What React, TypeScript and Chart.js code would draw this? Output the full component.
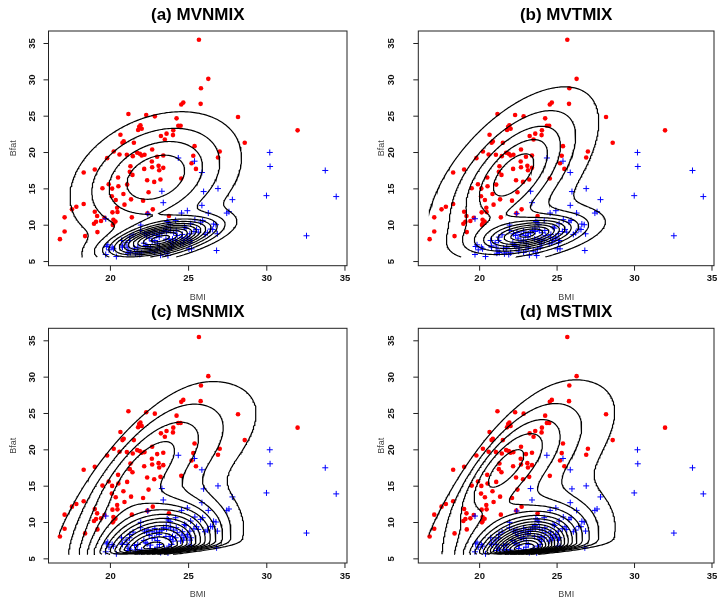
import React, { useEffect, useRef } from "react";
import { Chart, registerables } from "chart.js";
Chart.register(...registerables);

// ---------------- data (AIS athletes) ----------------
const femaleBMI = [25.66, 26.26, 25.79, 25.77, 24.66, 24.53, 28.16, 31.97, 28.59, 25.38, 26.99, 25.30, 26.88, 25.19, 25.47, 24.53,
  24.23, 24.34, 24.49, 24.02, 24.00, 23.59, 23.23, 23.48, 22.84, 22.29, 21.15, 21.84, 21.92, 21.77, 22.00, 20.64, 20.77, 20.85,
  21.50, 20.21, 20.58, 19.79, 21.05, 21.43, 21.71, 21.88, 22.00, 22.18, 22.67, 22.99, 23.38, 22.65, 22.67, 23.08, 23.12, 23.38,
  22.16, 21.28, 21.24, 21.41, 18.29, 19.00, 20.49, 21.07, 22.35, 22.80, 23.20, 19.89, 19.49, 20.11, 20.51, 22.44, 20.09, 20.83,
  20.34, 21.32, 22.09, 20.90, 17.54, 17.82, 18.29, 20.43, 22.71, 20.13, 20.45, 19.00, 22.37, 19.15, 21.37, 23.74, 17.07, 19.62,
  20.19, 19.40, 19.08, 18.95, 20.19, 20.32, 20.15, 17.07, 19.17, 18.38, 16.77];
const femaleBfat = [35.52, 30.14, 28.85, 26.70, 26.87, 26.60, 24.89, 23.05, 21.34, 20.88, 20.15, 19.55, 19.32, 18.53, 17.75, 16.42,
  24.70, 23.69, 23.69, 23.05, 22.40, 22.60, 22.27, 21.80, 24.98, 25.17, 25.30, 23.55, 23.74, 23.10, 23.28, 22.45, 21.34, 21.53,
  21.34, 20.15, 19.73, 19.23, 19.69, 19.50, 19.96, 19.83, 19.60, 19.69, 20.42, 19.41, 19.60, 18.77, 17.98, 18.17, 17.57, 17.89,
  17.75, 18.12, 17.34, 16.92, 17.25, 17.66, 16.56, 15.59, 16.19, 15.96, 16.28, 15.64, 15.08, 15.04, 15.36, 14.53, 13.98, 14.30,
  13.47, 13.56, 13.38, 12.83, 12.18, 12.55, 12.92, 12.41, 12.18, 11.77, 11.81, 11.86, 11.63, 11.26, 11.08, 11.26, 11.08, 11.03,
  10.76, 10.57, 10.48, 10.20, 10.20, 10.52, 10.02, 9.14, 9.05, 8.50, 8.08];
const maleBMI = [30.19, 30.21, 33.74, 34.44, 29.98, 32.54, 25.38, 25.85, 25.96, 26.88, 27.80, 25.85, 27.44, 27.58, 26.26, 24.92,
  24.55, 25.40, 26.75, 26.54, 25.51, 25.62, 25.34, 25.13, 25.08, 24.74, 24.83, 26.05, 26.79, 24.70, 24.49, 25.19, 24.92, 24.60,
  24.34, 23.29, 23.38, 22.39, 19.70, 23.63, 23.72, 23.82, 24.17, 24.21, 24.04, 24.27, 23.57, 23.40, 23.59, 23.14, 23.29, 22.84,
  22.67, 22.95, 23.12, 21.94, 21.92, 22.18, 22.31, 22.48, 22.41, 21.45, 21.24, 21.22, 20.71, 20.75, 20.77, 19.83, 20.11, 20.19,
  19.70, 20.38, 21.07, 21.18, 21.28, 21.11, 21.75, 21.71, 21.88, 22.00, 22.35, 22.56, 22.52, 22.84, 22.99, 23.14, 23.46, 23.63,
  23.68, 23.21, 23.85, 24.00, 23.91, 23.74, 24.17, 24.66, 24.57, 24.91, 25.15, 25.02, 25.09, 22.67, 22.84, 23.01, 22.14, 22.26,
  23.55, 23.76, 23.97, 23.85, 26.20, 26.41, 26.84, 26.60, 25.77, 25.90, 19.74, 19.91, 21.54, 21.60, 21.00];
const maleBfat = [20.01, 18.08, 17.53, 13.94, 14.07, 8.55, 18.81, 17.25, 14.63, 15.04, 13.52, 12.73, 11.67, 11.86, 11.67, 12.00,
  11.67, 10.76, 10.07, 9.42, 9.42, 9.05, 9.14, 10.20, 8.82, 9.74, 9.60, 8.73, 6.52, 7.90, 7.44, 6.75, 8.36, 8.73,
  19.25, 14.67, 13.10, 11.58, 10.89, 10.52, 10.34, 10.11, 10.66, 9.28, 8.96, 8.59, 9.60, 9.28, 9.14, 8.82, 8.96, 9.19,
  8.73, 8.59, 8.36, 10.02, 9.28, 8.82, 8.59, 8.22, 9.00, 8.68, 8.36, 7.90, 7.90, 7.16, 6.98, 7.30, 6.98, 6.75,
  5.97, 5.69, 6.98, 6.47, 6.24, 6.15, 6.98, 6.29, 5.97, 6.20, 7.07, 6.89, 6.43, 6.24, 6.61, 6.98, 6.43, 6.15,
  5.83, 5.87, 7.67, 7.44, 6.98, 6.75, 7.90, 7.58, 8.27, 8.13, 7.90, 6.75, 7.58, 7.81, 7.90, 7.53, 7.53, 7.21,
  8.08, 8.08, 8.08, 9.28, 8.96, 9.47, 8.82, 10.16, 10.43, 10.66, 7.07, 6.61, 6.84, 6.06, 7.58];

const xTicks = [20, 25, 30, 35];
const yTicks = [5, 10, 15, 20, 25, 30, 35];
const xRange = [16.04, 35.13];
const yRange = [4.43, 36.72];
const gridXRange = [16.75, 34.42];
const gridYRange = [5.63, 35.52];
const panelTitles = ["(a) MVNMIX", "(b) MVTMIX", "(c) MSNMIX", "(d) MSTMIX"];
const xTitle = "BMI";
const yTitle = "Bfat";

// fitted components: [weight, muBMI, muBfat, sdBMI, sdBfat, rho, skewBMI, skewBfat, dof (0 = normal)]
const femaleComp = [
  [0.70, 22.9, 16.6, 3.1, 5.1, 0.30, 0, 0, 0],
  [0.75, 22.2, 17.0, 3.1, 6.8, 0.60, 0, 0, 4],
  [0.53, 20.0, 16.5, 5.0, 7.0, 0.65, 3.6, -1.5, 0],
  [0.53, 20.0, 17.0, 4.6, 6.8, 0.65, 3.6, -1.5, 5],
];
const maleComp = [
  [0.30, 23.2, 8.1, 2.1, 1.6, 0.60, 0, 0, 0],
  [0.25, 23.2, 8.7, 2.25, 1.7, 0.45, 0, 0, 4],
  [0.47, 22.7, 5.85, 2.5, 3.9, 0.35, -1.5, 12, 0],
  [0.47, 22.8, 5.85, 2.3, 3.5, 0.35, -1.5, 12, 5],
];
// density maximum divided by this gives the spacing of the contour levels
const contourDivisions = [12.45, 10.3, 14.5, 18];

// ---------------- layout ----------------
const canvasPos = [[0, 0], [360, 0], [0, 297], [360, 297]];
const chartPad = [
  { left: 48.5, top: 31, right: 13, bottom: 34.3 },
  { left: 58.3, top: 31, right: 6, bottom: 34.3 },
  { left: 48.5, top: 31.3, right: 13, bottom: 34 },
  { left: 58.3, top: 31.3, right: 6, bottom: 34 },
];
const yLabelGap = [[16.6, 35.2], [26.6, 36.6], [16.6, 35.2], [26.6, 36.6]];
const FONT = "'Liberation Sans', Arial, Helvetica, sans-serif";

// ---------------- density + contour helpers ----------------
function normCdf(x: number) {
  const t = 1 / (1 + 0.2316419 * Math.abs(x));
  const d = 0.3989422804 * Math.exp(-x * x / 2);
  const p = d * t * (0.3193815 + t * (-0.3565638 + t * (1.781478 + t * (-1.821256 + t * 1.330274))));
  return x > 0 ? 1 - p : p;
}
function compDensity(c: number[], x: number, y: number) {
  const [w, mx, my, sx, sy, r, ax, ay, nu] = c;
  const zx = (x - mx) / sx, zy = (y - my) / sy;
  const q = 1 - r * r;
  const delta = (zx * zx - 2 * r * zx * zy + zy * zy) / q;
  const base = 1 / (2 * Math.PI * sx * sy * Math.sqrt(q));
  const k = nu > 0 ? Math.pow(1 + delta / nu, -(nu / 2 + 1)) : Math.exp(-delta / 2);
  let skew = 1;
  if (ax !== 0 || ay !== 0) {
    let s = ax * zx + ay * zy;
    if (nu > 0) s *= Math.sqrt((nu + 2) / (delta + nu));
    skew = 2 * normCdf(s);
  }
  return w * base * k * skew;
}

type P = { x: number; y: number };
function contourLines(xs: number[], ys: number[], z: number[][], level: number): P[][] {
  const nx = xs.length, ny = ys.length;
  const H = (i: number, j: number) => j * nx + i;
  const V = (i: number, j: number) => nx * ny + j * nx + i;
  const pt = (e: number): P => {
    if (e < nx * ny) {
      const j = Math.floor(e / nx), i = e % nx;
      const a = z[j][i], b = z[j][i + 1];
      const t = (level - a) / (b - a);
      return { x: xs[i] + t * (xs[i + 1] - xs[i]), y: ys[j] };
    }
    const e2 = e - nx * ny;
    const j = Math.floor(e2 / nx), i = e2 % nx;
    const a = z[j][i], b = z[j + 1][i];
    const t = (level - a) / (b - a);
    return { x: xs[i], y: ys[j] + t * (ys[j + 1] - ys[j]) };
  };
  const segs: [number, number][] = [];
  for (let j = 0; j < ny - 1; j++) {
    for (let i = 0; i < nx - 1; i++) {
      const a = z[j][i], b = z[j][i + 1], c = z[j + 1][i + 1], d = z[j + 1][i];
      const ea = a >= level, eb = b >= level, ec = c >= level, ed = d >= level;
      const B = H(i, j), R = V(i + 1, j), T = H(i, j + 1), L = V(i, j);
      const cross: number[] = [];
      if (ea !== eb) cross.push(B);
      if (eb !== ec) cross.push(R);
      if (ec !== ed) cross.push(T);
      if (ed !== ea) cross.push(L);
      if (cross.length === 2) segs.push([cross[0], cross[1]]);
      else if (cross.length === 4) {
        const center = (a + b + c + d) / 4;
        if ((center >= level) === ea) { segs.push([B, R]); segs.push([T, L]); }
        else { segs.push([L, B]); segs.push([R, T]); }
      }
    }
  }
  const adj = new Map<number, number[]>();
  segs.forEach((s, k) => {
    for (const e of s) {
      if (!adj.has(e)) adj.set(e, []);
      adj.get(e)!.push(k);
    }
  });
  const used = new Array(segs.length).fill(false);
  const lines: P[][] = [];
  const walk = (start: number, out: number[]) => {
    let cur = start;
    for (;;) {
      const nb = (adj.get(cur) || []).find((m) => !used[m]);
      if (nb === undefined) break;
      used[nb] = true;
      const s = segs[nb];
      const nxt = s[0] === cur ? s[1] : s[0];
      out.push(nxt);
      cur = nxt;
    }
  };
  for (let k = 0; k < segs.length; k++) {
    if (used[k]) continue;
    used[k] = true;
    const fwd: number[] = [segs[k][0], segs[k][1]];
    walk(segs[k][1], fwd);
    const back: number[] = [];
    walk(segs[k][0], back);
    const chain = back.reverse().concat(fwd);
    lines.push(chain.map(pt));
  }
  return lines;
}

function panelContours(p: number): P[][] {
  const n = 161;
  const xs: number[] = [], ys: number[] = [];
  for (let i = 0; i < n; i++) {
    xs.push(gridXRange[0] + ((gridXRange[1] - gridXRange[0]) * i) / (n - 1));
    ys.push(gridYRange[0] + ((gridYRange[1] - gridYRange[0]) * i) / (n - 1));
  }
  let zmax = 0;
  const z = ys.map((y) => xs.map((x) => {
    const v = compDensity(femaleComp[p], x, y) + compDensity(maleComp[p], x, y);
    if (v > zmax) zmax = v;
    return v;
  }));
  const step = zmax / contourDivisions[p];
  const out: P[][] = [];
  for (let k = 1; k * step < zmax; k++) out.push(...contourLines(xs, ys, z, k * step));
  return out;
}

// ---------------- axis/frame plugin ----------------
function framePlugin(p: number) {
  return {
    id: "frame" + p,
    afterDraw(chart: any) {
      const ctx = chart.ctx as CanvasRenderingContext2D;
      const { left, right, top, bottom } = chart.chartArea;
      const xs = chart.scales.x, ys = chart.scales.y;
      ctx.save();
      ctx.strokeStyle = "#222";
      ctx.lineWidth = 1;
      ctx.strokeRect(left, top, right - left, bottom - top);
      ctx.beginPath();
      for (const t of xTicks) {
        const px = xs.getPixelForValue(t);
        ctx.moveTo(px, bottom);
        ctx.lineTo(px, bottom + 5);
      }
      for (const t of yTicks) {
        const py = ys.getPixelForValue(t);
        ctx.moveTo(left, py);
        ctx.lineTo(left - 5, py);
      }
      ctx.stroke();
      ctx.fillStyle = "#111";
      ctx.font = "bold 9.5px " + FONT;
      ctx.textAlign = "center";
      ctx.textBaseline = "middle";
      for (const t of xTicks) ctx.fillText(String(t), xs.getPixelForValue(t), bottom + 13);
      for (const t of yTicks) {
        ctx.save();
        ctx.translate(left - yLabelGap[p][0], ys.getPixelForValue(t));
        ctx.rotate(-Math.PI / 2);
        ctx.fillText(String(t), 0, 0);
        ctx.restore();
      }
      ctx.font = "9px " + FONT;
      ctx.fillStyle = "#444";
      ctx.fillText(xTitle, (left + right) / 2, bottom + 31.5);
      ctx.save();
      ctx.translate(left - yLabelGap[p][1], (top + bottom) / 2);
      ctx.rotate(-Math.PI / 2);
      ctx.fillText(yTitle, 0, 0);
      ctx.restore();
      ctx.fillStyle = "#000";
      ctx.font = "bold 17px " + FONT;
      ctx.fillText(panelTitles[p], (left + right) / 2, top - 15.5);
      ctx.restore();
    },
  };
}

function Panel({ p }: { p: number }) {
  const ref = useRef<HTMLCanvasElement>(null);
  useEffect(() => {
    const lines = panelContours(p);
    const contourSets = lines.map((line) => ({
      type: "scatter" as const,
      data: line,
      showLine: true,
      pointRadius: 0,
      borderColor: "#000",
      borderWidth: 1.2,
      fill: false,
      order: 0,
    }));
    const chart = new Chart(ref.current!, {
      type: "scatter",
      data: {
        datasets: [
          {
            data: femaleBMI.map((x, i) => ({ x, y: femaleBfat[i] })),
            pointStyle: "circle",
            pointRadius: 2.3,
            backgroundColor: "#ff0000",
            borderWidth: 0,
            order: 2,
          },
          {
            data: maleBMI.map((x, i) => ({ x, y: maleBfat[i] })),
            pointStyle: "cross",
            pointRadius: 3,
            borderColor: "#0000ff",
            borderWidth: 1,
            order: 1,
          },
          ...contourSets,
        ] as any,
      },
      options: {
        animation: false,
        responsive: false,
        devicePixelRatio: 1,
        events: [],
        layout: { padding: chartPad[p] },
        plugins: { legend: { display: false }, tooltip: { enabled: false }, title: { display: false } },
        scales: {
          x: { type: "linear", min: xRange[0], max: xRange[1], display: false },
          y: { type: "linear", min: yRange[0], max: yRange[1], display: false },
        },
      },
      plugins: [framePlugin(p)],
    });
    return () => chart.destroy();
  }, [p]);
  return (
    <canvas
      ref={ref}
      width={360}
      height={300}
      style={{ position: "absolute", left: canvasPos[p][0], top: canvasPos[p][1], width: 360, height: 300 }}
    />
  );
}

export default function App() {
  return (
    <div style={{ position: "absolute", left: 0, top: 0, width: 720, height: 599, background: "#fff", overflow: "hidden" }}>
      {[0, 1, 2, 3].map((p) => (
        <Panel key={p} p={p} />
      ))}
    </div>
  );
}
